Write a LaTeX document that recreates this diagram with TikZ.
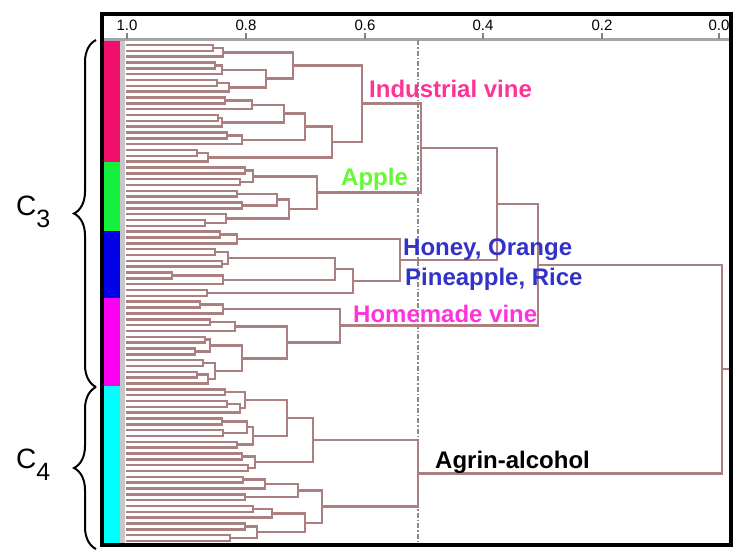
\documentclass[tikz,border=0pt]{standalone}
\usepackage{fontspec}
\setmainfont{Liberation Sans}
\usetikzlibrary{calc,decorations.pathreplacing}
\definecolor{dcol}{RGB}{170,128,128}
\definecolor{crim}{RGB}{240,16,106}
\definecolor{grn}{RGB}{20,240,60}
\definecolor{blu}{RGB}{0,0,230}
\definecolor{mag}{RGB}{250,0,240}
\definecolor{cya}{RGB}{0,255,255}
\definecolor{indc}{RGB}{255,50,150}
\definecolor{appc}{RGB}{100,250,50}
\definecolor{honc}{RGB}{50,50,200}
\definecolor{homc}{RGB}{255,50,220}
\definecolor{axc}{RGB}{165,165,165}
\newcommand\mg[4]{%
  \path let \p1=(#2), \p2=(#3) in (#4pt,{0.5*\y1+0.5*\y2}) coordinate (#1);
  \draw[dl] (#2) -| (#1);
  \draw[dl] (#3) -| (#1);
}
\begin{document}
\begin{tikzpicture}[x=1pt,y=-1pt,
  dl/.style={draw=dcol,line width=2.5pt},
  lab/.style={font=\fontsize{24}{26}\selectfont\bfseries,anchor=base west,inner sep=0pt},
  tick/.style={font=\fontsize{15}{17}\selectfont,anchor=base,inner sep=0pt}]
\useasboundingbox (0,0) rectangle (753,558);
% colour bar
\fill[crim] (104,40) rectangle (120,162);
\fill[grn] (104,162) rectangle (120,231);
\fill[blu] (104,231) rectangle (120,298);
\fill[mag] (104,298) rectangle (120,386);
\fill[cya] (104,386) rectangle (120,543);
\fill[black!22] (120,40) rectangle (125,543);
% axis
\draw[axc,line width=3pt] (104,39) -- (729,39);
\foreach \v/\xx in {1.0/127,0.8/246,0.6/365,0.4/483,0.2/602,0.0/719}{
  \draw[axc!80!black,line width=1.5pt] (\xx,33) -- (\xx,39);
  \node[tick] (t\xx) at (\xx,30) {\v};
}
% cut line
\draw[black!45,line width=1.5pt,dash pattern=on 5pt off 2pt on 1.5pt off 2pt] (418,40) -- (418,543);
% leaves
\foreach \i in {0,...,85}{\coordinate (L\i) at (126,{45+5.835*\i});}
% Industrial vine
\mg{a1}{L0}{L1}{213}
\mg{a2}{a1}{L2}{223}
\mg{b1}{L3}{L4}{215}
\mg{b2}{b1}{L5}{222}
\mg{b3}{L6}{L7}{217}
\mg{b4}{b3}{L8}{229}
\mg{b5}{b2}{b4}{266}
\mg{ct}{a2}{b5}{293}
\mg{c1}{L9}{L10}{225}
\mg{c2}{c1}{L11}{252}
\mg{c3}{L12}{L13}{218}
\mg{c4}{c3}{L14}{222}
\mg{c5}{c2}{c4}{284}
\mg{c6}{L15}{L16}{227}
\mg{c7}{c6}{L17}{242}
\mg{c8}{c5}{c7}{305}
\mg{c9}{L18}{L19}{197}
\mg{c10}{c9}{L20}{208}
\mg{cb}{c8}{c10}{332}
\mg{ind}{ct}{cb}{362}
% Apple
\mg{g1}{L21}{L22}{245}
\mg{g2}{L23}{L24}{240}
\mg{g3}{g1}{g2}{253}
\mg{g4}{L25}{L26}{237}
\mg{g5}{L27}{L28}{242}
\mg{g6}{g4}{g5}{277}
\mg{g7}{L30}{L31}{205}
\mg{g8}{L29}{g7}{226}
\mg{g9}{g6}{g8}{289}
\mg{app}{g3}{g9}{317}
% Honey etc.
\mg{h1}{L32}{L33}{220}
\mg{h2}{h1}{L34}{237}
\mg{h3}{L35}{L36}{215}
\mg{h4}{L37}{L38}{222}
\mg{h5}{h3}{h4}{228}
\mg{h6}{L39}{L40}{172}
\mg{h7}{h6}{L41}{223}
\mg{h8}{h5}{h7}{335}
\mg{h9}{L42}{L43}{207}
\mg{h10}{h8}{h9}{353}
\mg{hon}{h2}{h10}{400}
% Homemade vine
\mg{m1}{L44}{L45}{200}
\mg{m2}{m1}{L46}{223}
\mg{m3}{L47}{L48}{210}
\mg{m4}{m3}{L49}{235}
\mg{m5}{L50}{L51}{205}
\mg{m6}{L52}{L53}{195}
\mg{m7}{m5}{m6}{210}
\mg{m8}{L54}{L55}{203}
\mg{m9}{L56}{L57}{197}
\mg{m10}{m9}{L58}{208}
\mg{m11}{m8}{m10}{215}
\mg{m12}{m7}{m11}{242}
\mg{m13}{m4}{m12}{287}
\mg{hom}{m2}{m13}{340}
% Agrin-alcohol
\mg{k1}{L59}{L60}{225}
\mg{k2}{L61}{L62}{227}
\mg{k3}{k2}{L63}{240}
\mg{k4}{k1}{k3}{245}
\mg{k5}{L64}{L65}{222}
\mg{k6}{L66}{L67}{223}
\mg{k7}{k5}{k6}{247}
\mg{k8}{L68}{L69}{237}
\mg{k9}{k7}{k8}{253}
\mg{k10}{k4}{k9}{287}
\mg{k11}{L70}{L71}{242}
\mg{k12}{L72}{L73}{248}
\mg{k13}{k11}{k12}{255}
\mg{kt}{k10}{k13}{313}
\mg{k14}{L74}{L75}{243}
\mg{k15}{k14}{L76}{265}
\mg{k16}{L77}{L78}{245}
\mg{k17}{k15}{k16}{298}
\mg{k18}{L79}{L80}{253}
\mg{k19}{k18}{L81}{272}
\mg{k20}{L82}{L83}{245}
\mg{k21}{L84}{L85}{230}
\mg{k22}{k20}{k21}{257}
\mg{k23}{k19}{k22}{305}
\mg{kb}{k17}{k23}{322}
\mg{agr}{kt}{kb}{418}
% upper levels
\mg{ia}{ind}{app}{421}
\mg{iah}{ia}{hon}{497}
\mg{up}{iah}{hom}{538}
\mg{root}{up}{agr}{722}
\coordinate (edge) at (731,0);
\draw[dl] (root) -- (root -| edge);
% frame
\draw[black,line width=4pt] (102,14) rectangle (731,545);
% labels
\node[lab,text=indc] (lind) at (369,97) {Industrial vine};
\node[lab,text=appc] (lapp) at (341,185) {Apple};
\node[lab,text=honc] (lhon1) at (403,255) {Honey, Orange};
\node[lab,text=honc] (lhon2) at (405,285) {Pineapple, Rice};
\node[lab,text=homc] (lhom) at (353,322) {Homemade vine};
\node[lab,text=black] (lagr) at (435,468) {Agrin-alcohol};
% braces
\draw[black,line width=2pt,decorate,decoration={brace,amplitude=22pt}] (96,387) -- (96,40);
\draw[black,line width=2pt,decorate,decoration={brace,amplitude=22pt}] (96,549) -- (96,387);
\node[anchor=base west,inner sep=0pt] (cthree) at (16,215) {\fontsize{28}{30}\selectfont C\raisebox{-12pt}{\fontsize{25}{27}\selectfont 3}};
\node[anchor=base west,inner sep=0pt] (cfour) at (16,468) {\fontsize{28}{30}\selectfont C\raisebox{-12pt}{\fontsize{25}{27}\selectfont 4}};
\end{tikzpicture}
\end{document}
